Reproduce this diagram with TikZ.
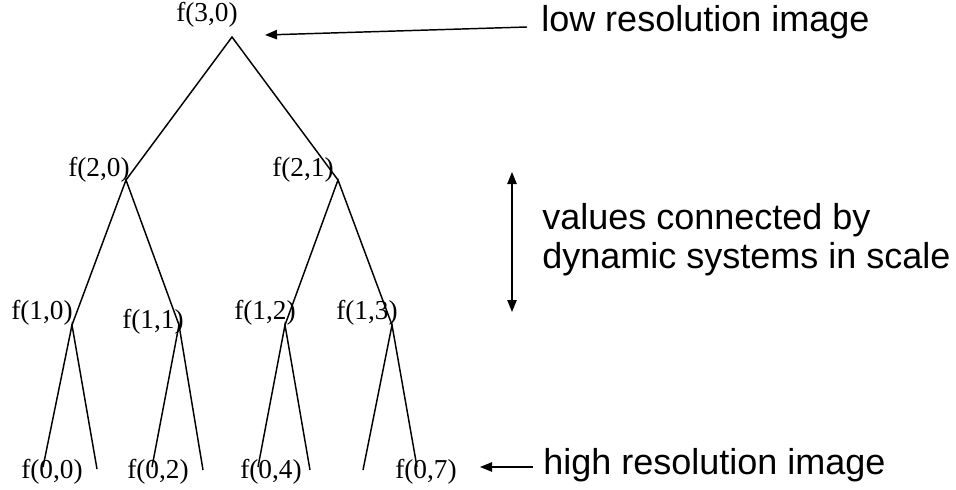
\documentclass[tikz,border=0pt]{standalone}
\usepackage{fontspec}
\setmainfont{Liberation Serif}
\newfontfamily\labelsans{Liberation Sans}
\usetikzlibrary{arrows.meta}
\begin{document}
\begin{tikzpicture}[x=0.75pt,y=-0.75pt,
  branch/.style={line width=1.1pt},
  fval/.style={inner sep=0pt,font=\fontsize{20.5}{24}\selectfont},
  note/.style={inner sep=0pt,anchor=west,align=left,font=\labelsans\fontsize{27}{29.5}\selectfont},
  pointer/.style={line width=1.1pt,-{Triangle[length=9pt,width=7pt]}},
  both/.style={line width=1.1pt,{Triangle[length=9pt,width=7pt]}-{Triangle[length=9pt,width=7pt]}}]
\useasboundingbox[fill=white] (0,0) rectangle (956,489);
% junctions
\coordinate (j30) at (232,37);
\coordinate (j20) at (126,180);
\coordinate (j21) at (338,180);
\coordinate (j10) at (72,325);
\coordinate (j11) at (179,325);
\coordinate (j12) at (285,325);
\coordinate (j13) at (392,325);
% leaves
\coordinate (l0) at (43,467);
\coordinate (l1) at (97,469);
\coordinate (l2) at (152,467);
\coordinate (l3) at (203,470);
\coordinate (l4) at (258,467);
\coordinate (l5) at (310,470);
\coordinate (l6) at (363,470);
\coordinate (l7) at (417,467);
% tree
\draw[branch] (j20) -- (j30) -- (j21);
\draw[branch] (j10) -- (j20) -- (j11);
\draw[branch] (j12) -- (j21) -- (j13);
\draw[branch] (l0) -- (j10) -- (l1);
\draw[branch] (l2) -- (j11) -- (l3);
\draw[branch] (l4) -- (j12) -- (l5);
\draw[branch] (l6) -- (j13) -- (l7);
% labels
\node[fval] (f30) at (207,15) {f(3,0)};
\node[fval] (f20) at (99,170) {f(2,0)};
\node[fval] (f21) at (303,170) {f(2,1)};
\node[fval] (f10) at (42,313) {f(1,0)};
\node[fval] (f11) at (153,322) {f(1,1)};
\node[fval] (f12) at (265,313) {f(1,2)};
\node[fval] (f13) at (367,313) {f(1,3)};
\node[fval] (f00) at (52,472) {f(0,0)};
\node[fval] (f02) at (158,472) {f(0,2)};
\node[fval] (f04) at (271,472) {f(0,4)};
\node[fval] (f07) at (426,472) {f(0,7)};
% notes
\node[note] (low) at (541,22) {low resolution image};
\node[note] (mid) at (542,240) {values connected by\\dynamic systems in scale};
\node[note] (high) at (543,465) {high resolution image};
\coordinate (lowstart) at (527,27);
\coordinate (lowtip) at (265,35);
\coordinate (hightail) at (533,467);
\coordinate (hightip) at (480,467);
\coordinate (scaletop) at (512,172);
\coordinate (scalebot) at (512,312);
\draw[pointer] (lowstart) -- (lowtip);
\draw[pointer] (hightail) -- (hightip);
\draw[both] (scalebot) -- (scaletop);
\end{tikzpicture}
\end{document}
